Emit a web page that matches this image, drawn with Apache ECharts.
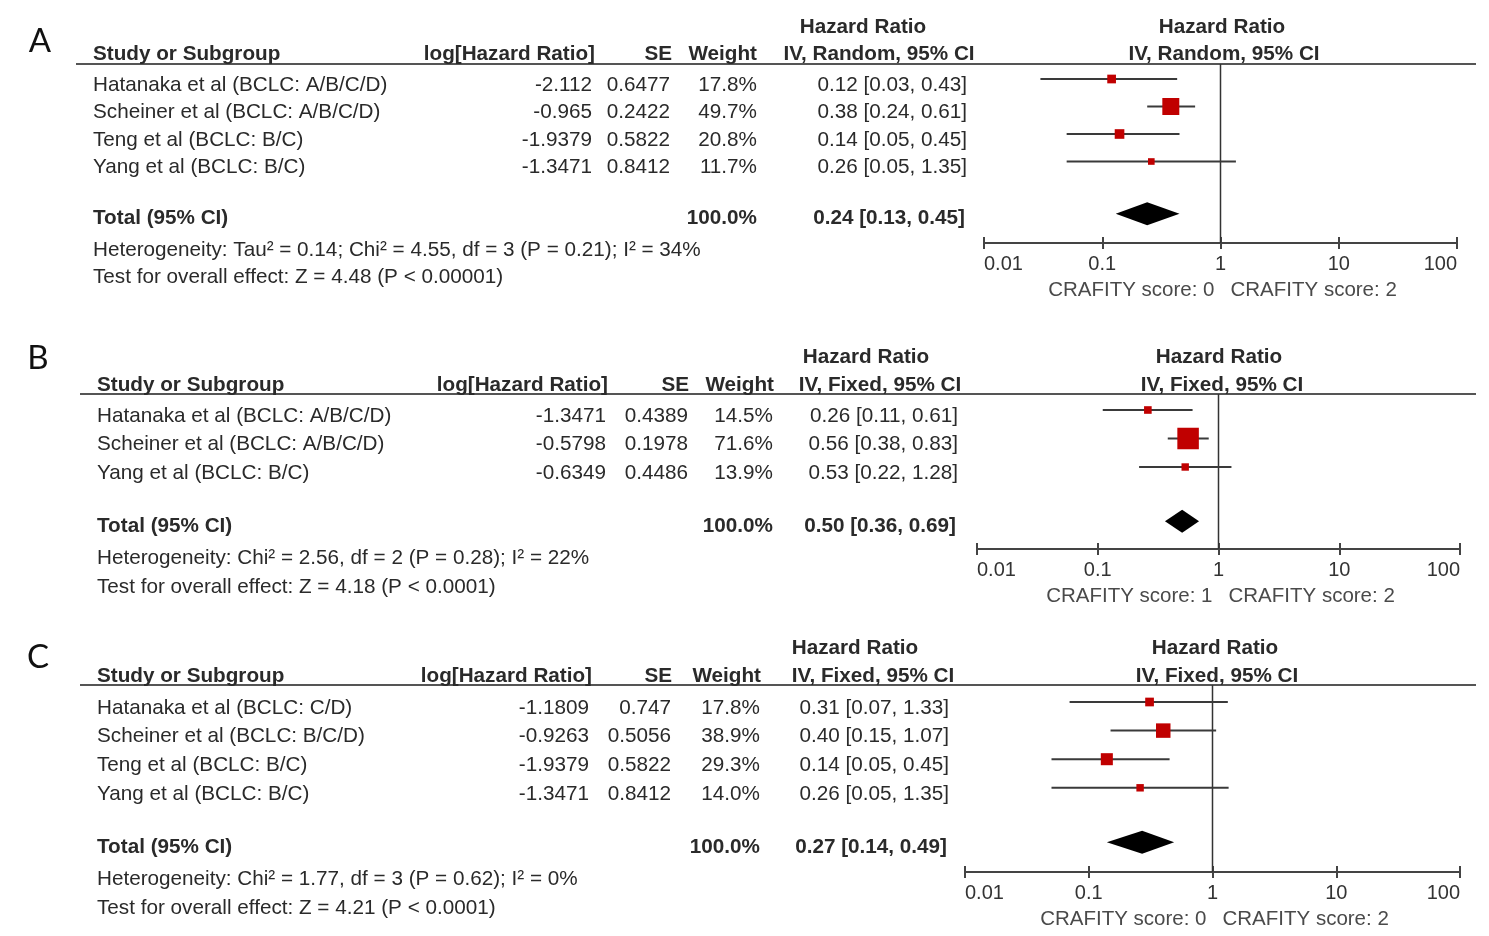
<!DOCTYPE html>
<html><head><meta charset="utf-8">
<script src="https://cdn.jsdelivr.net/npm/echarts@6/dist/echarts.min.js"></script>
<style>html,body{margin:0;padding:0;background:#fff}#c{width:1489px;height:936px}</style>
</head><body><div id="c"></div><script>
// ---------------- DATA ----------------
const tickValues = [0.01, 0.1, 1, 10, 100];
const tickLabels = ['0.01', '0.1', '1', '10', '100'];

// Panel A
const studiesA = ['Hatanaka et al (BCLC: A/B/C/D)', 'Scheiner et al (BCLC: A/B/C/D)', 'Teng et al (BCLC: B/C)', 'Yang et al (BCLC: B/C)'];
const logHrA = ['-2.112', '-0.965', '-1.9379', '-1.3471'];
const seA = ['0.6477', '0.2422', '0.5822', '0.8412'];
const weightA = [17.8, 49.7, 20.8, 11.7];
const hrA = [0.12, 0.38, 0.14, 0.26];
const loA = [0.03, 0.24, 0.05, 0.05];
const hiA = [0.43, 0.61, 0.45, 1.35];
const totalA = [0.24, 0.13, 0.45];
const methodA = 'IV, Random, 95% CI';
const hetA = 'Heterogeneity: Tau\u00b2 = 0.14; Chi\u00b2 = 4.55, df = 3 (P = 0.21); I\u00b2 = 34%';
const testA = 'Test for overall effect: Z = 4.48 (P < 0.00001)';
const favA = ['CRAFITY score: 0', 'CRAFITY score: 2'];

// Panel B
const studiesB = ['Hatanaka et al (BCLC: A/B/C/D)', 'Scheiner et al (BCLC: A/B/C/D)', 'Yang et al (BCLC: B/C)'];
const logHrB = ['-1.3471', '-0.5798', '-0.6349'];
const seB = ['0.4389', '0.1978', '0.4486'];
const weightB = [14.5, 71.6, 13.9];
const hrB = [0.26, 0.56, 0.53];
const loB = [0.11, 0.38, 0.22];
const hiB = [0.61, 0.83, 1.28];
const totalB = [0.50, 0.36, 0.69];
const methodB = 'IV, Fixed, 95% CI';
const hetB = 'Heterogeneity: Chi\u00b2 = 2.56, df = 2 (P = 0.28); I\u00b2 = 22%';
const testB = 'Test for overall effect: Z = 4.18 (P < 0.0001)';
const favB = ['CRAFITY score: 1', 'CRAFITY score: 2'];

// Panel C
const studiesC = ['Hatanaka et al (BCLC: C/D)', 'Scheiner et al (BCLC: B/C/D)', 'Teng et al (BCLC: B/C)', 'Yang et al (BCLC: B/C)'];
const logHrC = ['-1.1809', '-0.9263', '-1.9379', '-1.3471'];
const seC = ['0.747', '0.5056', '0.5822', '0.8412'];
const weightC = [17.8, 38.9, 29.3, 14.0];
const hrC = [0.31, 0.40, 0.14, 0.26];
const loC = [0.07, 0.15, 0.05, 0.05];
const hiC = [1.33, 1.07, 0.45, 1.35];
const totalC = [0.27, 0.14, 0.49];
const methodC = 'IV, Fixed, 95% CI';
const hetC = 'Heterogeneity: Chi\u00b2 = 1.77, df = 3 (P = 0.62); I\u00b2 = 0%';
const testC = 'Test for overall effect: Z = 4.21 (P < 0.0001)';
const favC = ['CRAFITY score: 0', 'CRAFITY score: 2'];

const panelLetters = ['A', 'B', 'C'];

// ---------------- ASSEMBLY ----------------
const panels = [
  {studies: studiesA, logHr: logHrA, se: seA, weight: weightA, hr: hrA, lo: loA, hi: hiA, total: totalA, method: methodA, het: hetA, test: testA, fav: favA},
  {studies: studiesB, logHr: logHrB, se: seB, weight: weightB, hr: hrB, lo: loB, hi: hiB, total: totalB, method: methodB, het: hetB, test: testB, fav: favB},
  {studies: studiesC, logHr: logHrC, se: seC, weight: weightC, hr: hrC, lo: loC, hi: hiC, total: totalC, method: methodC, het: hetC, test: testC, fav: favC}
];

// layout (pixels)
const layouts = [
  {lx: 40, ly: 41, gl: 984, gr: 1457, top: 64, bottom: 243, row0: 79, step: 27.5, line0: 76, line1: 1476, h1: 27, h2: 54,
   nameX: 93, logX: 592, seX: 670, wX: 757, ciX: 967, hLogX: 595, hSeX: 672, hWX: 757, hrC: 863, ivC: 879, rHrC: 1222, rIvC: 1224},
  {lx: 38, ly: 358, gl: 977, gr: 1460, top: 394, bottom: 549, row0: 410, step: 28.5, line0: 80, line1: 1476, h1: 357, h2: 385,
   nameX: 97, logX: 606, seX: 688, wX: 773, ciX: 958, hLogX: 608, hSeX: 689, hWX: 774, hrC: 866, ivC: 880, rHrC: 1219, rIvC: 1222},
  {lx: 38, ly: 657, gl: 965, gr: 1460, top: 685, bottom: 872, row0: 702, step: 28.6, line0: 80, line1: 1476, h1: 648, h2: 676,
   nameX: 97, logX: 589, seX: 671, wX: 760, ciX: 949, hLogX: 592, hSeX: 672, hWX: 761, hrC: 855, ivC: 873, rHrC: 1215, rIvC: 1217}
];

const FONT = "'Liberation Sans', Arial, sans-serif";
const FS = 20.7;
const TXT = '#2a2a2a';
function txt(x, y, text, align, bold, size, color, family) {
  return {
    type: 'text', x: x, y: y, silent: true,
    style: {
      text: text, fill: color || TXT,
      font: (bold ? 'bold ' : '') + (size || FS) + 'px ' + (family || FONT),
      align: align || 'left', textAlign: align || 'left',
      verticalAlign: 'middle', textVerticalAlign: 'middle'
    }
  };
}
function tickFmt(v) {
  for (let i = 0; i < tickValues.length; i++) {
    if (Math.abs(Math.log10(v) - Math.log10(tickValues[i])) < 1e-6) return tickLabels[i];
  }
  return '';
}

const option = {animation: false, backgroundColor: '#fff', grid: [], xAxis: [], yAxis: [], series: [], graphic: []};

panels.forEach(function (d, p) {
  const L = layouts[p];
  const n = d.studies.length;
  const yMin = -(L.row0 - L.top) / L.step;
  const yMax = yMin + (L.bottom - L.top) / L.step;
  const totalRow = n + 0.9;
  const H = L.bottom - L.top;

  option.grid.push({left: L.gl, top: L.top, width: L.gr - L.gl, height: H, outerBoundsMode: 'none', containLabel: false, show: false});
  option.xAxis.push({
    type: 'log', logBase: 10, min: 0.01, max: 100, gridIndex: p, position: 'bottom',
    axisLine: {show: true, onZero: false, lineStyle: {color: '#444', width: 2}},
    axisTick: {show: true, inside: false, length: 6, lineStyle: {color: '#444', width: 2}},
    axisLabel: {show: true, margin: 11, fontSize: 20, fontFamily: FONT, color: '#333', formatter: tickFmt,
      alignMinLabel: 'left', alignMaxLabel: 'right'},
    splitLine: {show: false}, minorTick: {show: false}
  });
  option.xAxis.push({
    type: 'log', logBase: 10, min: 0.01, max: 100, gridIndex: p, position: 'top', offset: -H,
    axisLine: {show: false, onZero: false},
    axisTick: {show: true, inside: false, length: 6, lineStyle: {color: '#444', width: 2}},
    axisLabel: {show: false}, splitLine: {show: false}
  });
  option.yAxis.push({type: 'value', gridIndex: p, inverse: true, min: yMin, max: yMax, show: false, splitLine: {show: false}});

  const xi = 2 * p;
  // vertical line of no effect
  option.series.push({
    type: 'line', xAxisIndex: xi, yAxisIndex: p, silent: true, symbol: 'none', z: 1,
    data: [[1, yMin], [1, yMax]], lineStyle: {color: '#333', width: 1.5}
  });
  // study CIs and squares
  option.series.push({
    type: 'custom', xAxisIndex: xi, yAxisIndex: p, silent: true, z: 3, clip: false,
    data: d.hr.map(function (v, i) { return [v, i, d.lo[i], d.hi[i], d.weight[i]]; }),
    renderItem: function (params, api) {
      const y = api.coord([1, api.value(1)])[1];
      const xc = api.coord([api.value(0), 0])[0];
      const xl = api.coord([api.value(2), 0])[0];
      const xh = api.coord([api.value(3), 0])[0];
      const s = 1.34 * Math.pow(api.value(4), 0.65);
      return {type: 'group', children: [
        {type: 'line', shape: {x1: xl, y1: y, x2: xh, y2: y}, style: {stroke: '#3a3a3a', lineWidth: 2}},
        {type: 'rect', shape: {x: xc - s / 2, y: y - s / 2, width: s, height: s}, style: {fill: '#c00000'}}
      ]};
    }
  });
  // pooled diamond
  option.series.push({
    type: 'custom', xAxisIndex: xi, yAxisIndex: p, silent: true, z: 3, clip: false,
    data: [[d.total[0], totalRow, d.total[1], d.total[2]]],
    renderItem: function (params, api) {
      const y = api.coord([1, api.value(1)])[1];
      const xc = api.coord([api.value(0), 0])[0];
      const xl = api.coord([api.value(2), 0])[0];
      const xh = api.coord([api.value(3), 0])[0];
      const h = 11.5;
      return {type: 'polygon', shape: {points: [[xl, y], [xc, y - h], [xh, y], [xc, y + h]]}, style: {fill: '#000'}};
    }
  });
  // table text rows
  const rows = [];
  for (let i = 0; i < n; i++) rows.push([1, i]);
  rows.push([1, totalRow]);
  rows.push([1, n + 2]);
  rows.push([1, n + 3]);
  option.series.push({
    type: 'custom', xAxisIndex: xi, yAxisIndex: p, silent: true, z: 4, clip: false,
    data: rows,
    renderItem: function (params, api) {
      const i = params.dataIndex;
      const y = api.coord([1, api.value(1)])[1] + 6;
      if (i < n) {
        const lo = d.lo[i], hi = d.hi[i];
        return {type: 'group', children: [
          txt(L.nameX, y, d.studies[i], 'left'),
          txt(L.logX, y, d.logHr[i], 'right'),
          txt(L.seX, y, d.se[i], 'right'),
          txt(L.wX, y, d.weight[i].toFixed(1) + '%', 'right'),
          txt(L.ciX, y, d.hr[i].toFixed(2) + ' [' + lo.toFixed(2) + ', ' + hi.toFixed(2) + ']', 'right')
        ]};
      } else if (i === n) {
        return {type: 'group', children: [
          txt(L.nameX, y - 1, 'Total (95% CI)', 'left', true),
          txt(L.wX, y - 1, '100.0%', 'right', true),
          txt(L.ciX - 2, y - 1, d.total[0].toFixed(2) + ' [' + d.total[1].toFixed(2) + ', ' + d.total[2].toFixed(2) + ']', 'right', true)
        ]};
      } else if (i === n + 1) {
        return txt(L.nameX, y, d.het, 'left');
      }
      return txt(L.nameX, y, d.test, 'left');
    }
  });
  // favours labels under axis
  option.series.push({
    type: 'custom', xAxisIndex: xi, yAxisIndex: p, silent: true, z: 4, clip: false,
    data: [[1, yMax]],
    renderItem: function (params, api) {
      const c = api.coord([api.value(0), api.value(1)]);
      const y = c[1] + 47;
      return {type: 'group', children: [
        txt(c[0] - 6, y, d.fav[0], 'right', false, 20.5, '#4a4a4a'),
        txt(c[0] + 10, y, d.fav[1], 'left', false, 20.5, '#4a4a4a')
      ]};
    }
  });

  // header + decorations
  option.graphic.push(txt(L.lx, L.ly, panelLetters[p], 'center', false, 33, '#111', "Lato, 'Open Sans', sans-serif"));
  option.graphic.push({type: 'line', silent: true, shape: {x1: L.line0, y1: L.top, x2: L.line1, y2: L.top}, style: {stroke: '#555', lineWidth: 2}});
  option.graphic.push(txt(L.nameX, L.h2, 'Study or Subgroup', 'left', true));
  option.graphic.push(txt(L.hLogX, L.h2, 'log[Hazard Ratio]', 'right', true));
  option.graphic.push(txt(L.hSeX, L.h2, 'SE', 'right', true));
  option.graphic.push(txt(L.hWX, L.h2, 'Weight', 'right', true));
  option.graphic.push(txt(L.hrC, L.h1, 'Hazard Ratio', 'center', true));
  option.graphic.push(txt(L.ivC, L.h2, d.method, 'center', true));
  option.graphic.push(txt(L.rHrC, L.h1, 'Hazard Ratio', 'center', true));
  option.graphic.push(txt(L.rIvC, L.h2, d.method, 'center', true));
});

const chart = echarts.init(document.getElementById('c'), null, {renderer: 'canvas', width: 1489, height: 936});
chart.setOption(option);
</script></body></html>
